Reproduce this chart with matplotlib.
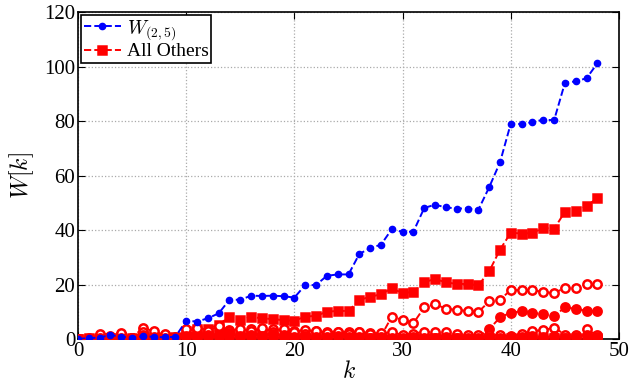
import matplotlib
matplotlib.use("Agg")
import matplotlib.pyplot as plt

plt.rcParams['font.family'] = ['Liberation Serif', 'DejaVu Serif']
plt.rcParams['mathtext.fontset'] = 'cm'

k = list(range(49))

w25 = [0, 0.3, 0.5, 1.5, 0.8, 0.5, 1.0, 0.8, 0.6, 0.8,
       6.7, 6.4, 7.6, 9.4, 14.4, 14.4, 15.9, 15.8, 15.9, 15.7,
       15.2, 19.8, 19.8, 23.2, 23.7, 23.7, 31.2, 33.4, 34.6, 40.3,
       39.3, 39.4, 48.1, 49.3, 48.3, 47.9, 47.9, 47.4, 55.7, 64.8,
       79.1, 78.9, 79.6, 80.5, 80.3, 94.0, 94.6, 95.7, 101.2]

# the "all others" curves, biggest first
r1 = [0, 0.2, 0.5, 0.3, 0.8, 0.4, 1.2, 0.6, 0.5, 0.8,
      3.0, 3.5, 3.8, 5.2, 8.2, 7.0, 8.1, 7.6, 7.3, 6.9,
      6.7, 8.2, 8.5, 10.0, 10.3, 10.3, 14.3, 15.5, 16.4, 18.6,
      16.8, 17.3, 20.9, 22.0, 20.8, 20.2, 20.2, 19.7, 24.8, 32.8,
      39.0, 38.7, 38.9, 40.8, 40.4, 46.7, 47.0, 48.7, 51.8]
r2 = [0, 0.1, 0.3, 0.5, 0.4, 0.3, 4.2, 2.8, 1.5, 0.6,
      2.0, 2.5, 2.2, 2.8, 3.3, 2.6, 3.5, 3.0, 3.5, 3.3,
      2.9, 3.2, 2.8, 2.6, 2.7, 2.6, 2.5, 2.3, 1.0, 8.2,
      7.0, 5.8, 11.6, 12.8, 11.1, 10.7, 10.3, 9.9, 13.8, 14.4,
      18.0, 17.9, 17.9, 17.3, 16.8, 18.8, 18.8, 20.2, 20.3]
r3 = [0, 0.2, 0.4, 0.2, 0.5, 0.3, 0.8, 0.5, 0.3, 0.4,
      1.5, 1.8, 1.2, 2.0, 1.6, 1.4, 2.2, 1.8, 1.6, 1.3,
      1.2, 1.5, 1.3, 1.8, 1.4, 1.2, 1.6, 1.1, 1.0, 1.2,
      0.8, 1.0, 1.5, 1.3, 1.2, 0.9, 1.0, 0.8, 3.6, 7.9,
      9.7, 10.1, 9.7, 9.0, 8.4, 11.6, 11.1, 10.3, 10.3]
r4 = [0, 0.1, 1.8, 0.6, 2.1, 0.4, 2.5, 0.8, 1.8, 0.5,
      3.8, 4.2, 3.0, 4.6, 3.0, 3.8, 2.8, 4.0, 2.6, 3.5,
      2.4, 2.0, 3.0, 2.2, 2.6, 1.8, 2.6, 2.0, 2.2, 2.4,
      1.6, 2.0, 2.7, 2.5, 2.5, 1.8, 1.6, 1.4, 1.6, 1.3,
      1.0, 1.8, 3.0, 3.2, 4.2, 1.6, 1.3, 3.6, 1.5]
r5 = [0, 0.0, 0.3, 1.2, 0.5, 0.2, 1.5, 0.3, 0.2, 0.3,
      1.0, 0.8, 1.6, 1.2, 2.2, 1.0, 1.4, 1.2, 2.0, 1.6,
      0.8, 1.0, 0.6, 0.8, 1.0, 0.7, 0.6, 0.5, 0.6, 0.5,
      0.4, 0.6, 0.5, 0.4, 0.6, 0.5, 0.4, 0.3, 0.6, 0.5,
      0.4, 0.8, 1.2, 0.6, 1.0, 0.5, 0.8, 1.6, 0.6]
r6 = [0, 0.0, 0.1, 0.2, 0.1, 0.1, 0.4, 0.2, 0.1, 0.2,
      0.5, 0.4, 0.6, 0.5, 0.6, 0.4, 0.5, 0.3, 0.4, 0.3,
      0.2, 0.3, 0.2, 0.3, 0.2, 0.2, 0.3, 0.2, 0.2, 0.1,
      0.1, 0.2, 0.1, 0.2, 0.1, 0.2, 0.1, 0.1, 0.2, 0.1,
      0.2, 0.3, 0.2, 0.4, 0.3, 0.2, 0.3, 0.5, 0.2]
others = [r1, r2, r3, r4, r5, r6]

fig = plt.figure(figsize=(6.31, 3.90), dpi=100)
ax = fig.add_axes([0.1236, 0.1308, 0.8574, 0.8382])

ax.plot(k, w25, '--', color='blue', marker='.', markersize=9, lw=1.4,
        label=r'$W_{(2,5)}$', zorder=4)

styles = [('s', 'red'), ('o', 'white'), ('o', 'red'), ('o', 'white'), ('o', 'red'), ('s', 'red')]
for i, vals in enumerate(others):
    m, fc = styles[i]
    ax.plot(k, vals, '--', color='red', marker=m, markersize=6, mew=1.8,
            mfc=fc, lw=1.4, label='All Others' if i == 0 else None, zorder=3)

ax.set_xlim(0, 50)
ax.set_ylim(0, 120)
ax.set_xticks([0, 10, 20, 30, 40, 50])
ax.set_yticks([0, 20, 40, 60, 80, 100, 120])
ax.grid(True, linestyle=':', color='#aaaaaa', lw=0.9)
ax.tick_params(direction='in', top=True, right=True, labelsize=15, length=5, pad=2)
for s in ax.spines.values():
    s.set_linewidth(1.2)

ax.set_xlabel(r'$k$', fontsize=17, labelpad=0)
ax.set_ylabel(r'$W[k]$', fontsize=17, labelpad=6)

leg = ax.legend(loc='upper left', fontsize=14, borderaxespad=0.15, handlelength=1.9,
                handletextpad=0.3, borderpad=0.15, labelspacing=0.05, fancybox=False,
                framealpha=1)
leg.get_frame().set_edgecolor('black')
leg.get_frame().set_linewidth(1.2)

fig.savefig('out.png', dpi=100)
